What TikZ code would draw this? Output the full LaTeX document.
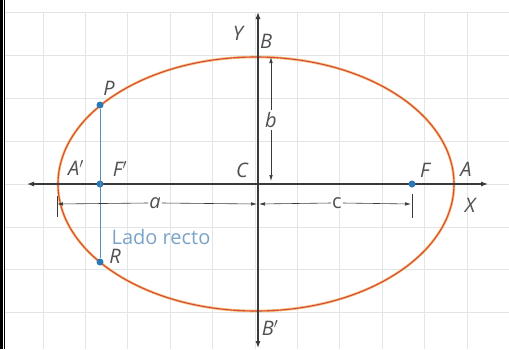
\documentclass[tikz,border=0pt]{standalone}
\usepackage{fontspec}
\setmainfont{Open Sans}
\usetikzlibrary{arrows.meta}
\definecolor{gridc}{HTML}{E2E5E8}
\definecolor{axisc}{HTML}{3A3A3A}
\definecolor{labc}{HTML}{505050}
\definecolor{ellred}{HTML}{D64A3C}
\definecolor{ellorg}{HTML}{F6C275}
\definecolor{ptblue}{HTML}{2A78B5}
\definecolor{lrblue}{HTML}{5C8DB8}
\definecolor{lrtext}{HTML}{7AA3C8}
\tikzset{
  lab/.style={text=labc, font=\fontsize{20}{20}\selectfont\itshape, inner sep=0pt},
  dimlab/.style={text=labc, font=\fontsize{20}{20}\selectfont, inner sep=1pt, fill=white},
  axisline/.style={draw=axisc, line width=1.1pt, {Latex[length=7pt,width=5pt]}-{Latex[length=7pt,width=5pt]}},
  dimline/.style={draw=axisc, line width=0.6pt},
  dimarrow/.style={draw=axisc, line width=0.6pt, -{Latex[length=6pt,width=3.5pt]}},
  pt/.style={circle, fill=ptblue, inner sep=0pt, minimum size=7pt},
}
\begin{document}
\begin{tikzpicture}[x=1pt,y=-1pt]
\useasboundingbox (0,0) rectangle (509,349);
\fill[white] (0,0) rectangle (509,349);
% grid
\foreach \gx in {43,85.4,127.8,170.2,212.6,255,297.4,339.8,382.2,424.6,467}
  \draw[gridc, line width=0.9pt] (\gx,12) -- (\gx,349);
\foreach \gy in {12,55,98,141,184,227,269,312}
  \draw[gridc, line width=0.9pt] (5,\gy) -- (509,\gy);
% border
\fill[black] (0,0) rectangle (3,349);
\fill[black] (4.2,0) rectangle (5.4,349);
% coordinates
\coordinate (xl) at (27,184);
\coordinate (xr) at (488,184);
\coordinate (yt) at (258,12);
\coordinate (yb) at (258,348);
\coordinate (Cc) at (258,184);
% ellipse
\draw[ellorg, line width=2.6pt] (256,184) ellipse [x radius=198, y radius=127];
\draw[ellred, line width=1.1pt] (256,184) ellipse [x radius=198, y radius=127];
% axes
\draw[axisline] (xl) -- (xr);
\draw[axisline] (yb) -- (yt);
% points
\node[pt] (P) at (100,105) {};
\node[pt] (Fp) at (100,184) {};
\node[pt] (R) at (100,262) {};
\node[pt] (F) at (412,184) {};
% latus rectum
\draw[lrblue, line width=0.9pt] (P) -- (R);
\node[text=lrtext, font=\fontsize{20}{20}\selectfont, inner sep=0pt] (lr) at (161,237) {Lado recto};
% dimension a
\coordinate (ta1) at (57,196);
\coordinate (ta2) at (57,217);
\draw[dimline] (ta1) -- (ta2);
\coordinate (aL) at (57,204);
\coordinate (aR) at (257,204);
\node[dimlab, font=\fontsize{20}{20}\selectfont\itshape] (alab) at (155,203) {a};
\draw[dimarrow] (alab.west) -- (aL);
\draw[dimarrow] (alab.east) -- (aR);
% dimension c
\coordinate (tc1) at (412,194);
\coordinate (tc2) at (412,218);
\draw[dimline] (tc1) -- (tc2);
\coordinate (cL) at (259,204);
\coordinate (cR) at (411,204);
\node[dimlab] (clab) at (337,203) {c};
\draw[dimarrow] (clab.west) -- (cL);
\draw[dimarrow] (clab.east) -- (cR);
% dimension b
\coordinate (bT) at (271,57);
\coordinate (bB) at (271,181);
\node[dimlab, font=\fontsize{20}{20}\selectfont\itshape, inner sep=2pt] (blab) at (271,120) {b};
\draw[dimarrow] (blab.north) -- (bT);
\draw[dimarrow] (blab.south) -- (bB);
% labels
\node[lab] (Ylab) at (238,33) {Y};
\node[lab] (Blab) at (266,41) {B};
\node[lab] (Plab) at (109,88) {P};
\node[lab] (Aplab) at (76,168) {A$'$};
\node[lab] (Fplab) at (120,169) {F$'$};
\node[lab] (Clab) at (242,170) {C};
\node[lab] (Flab) at (425,170) {F};
\node[lab] (Alab) at (466,169) {A};
\node[lab] (Xlab) at (470,205) {X};
\node[lab] (Bplab) at (270,328) {B$'$};
\node[lab] (Rlab) at (115,256) {R};
\end{tikzpicture}
\end{document}
